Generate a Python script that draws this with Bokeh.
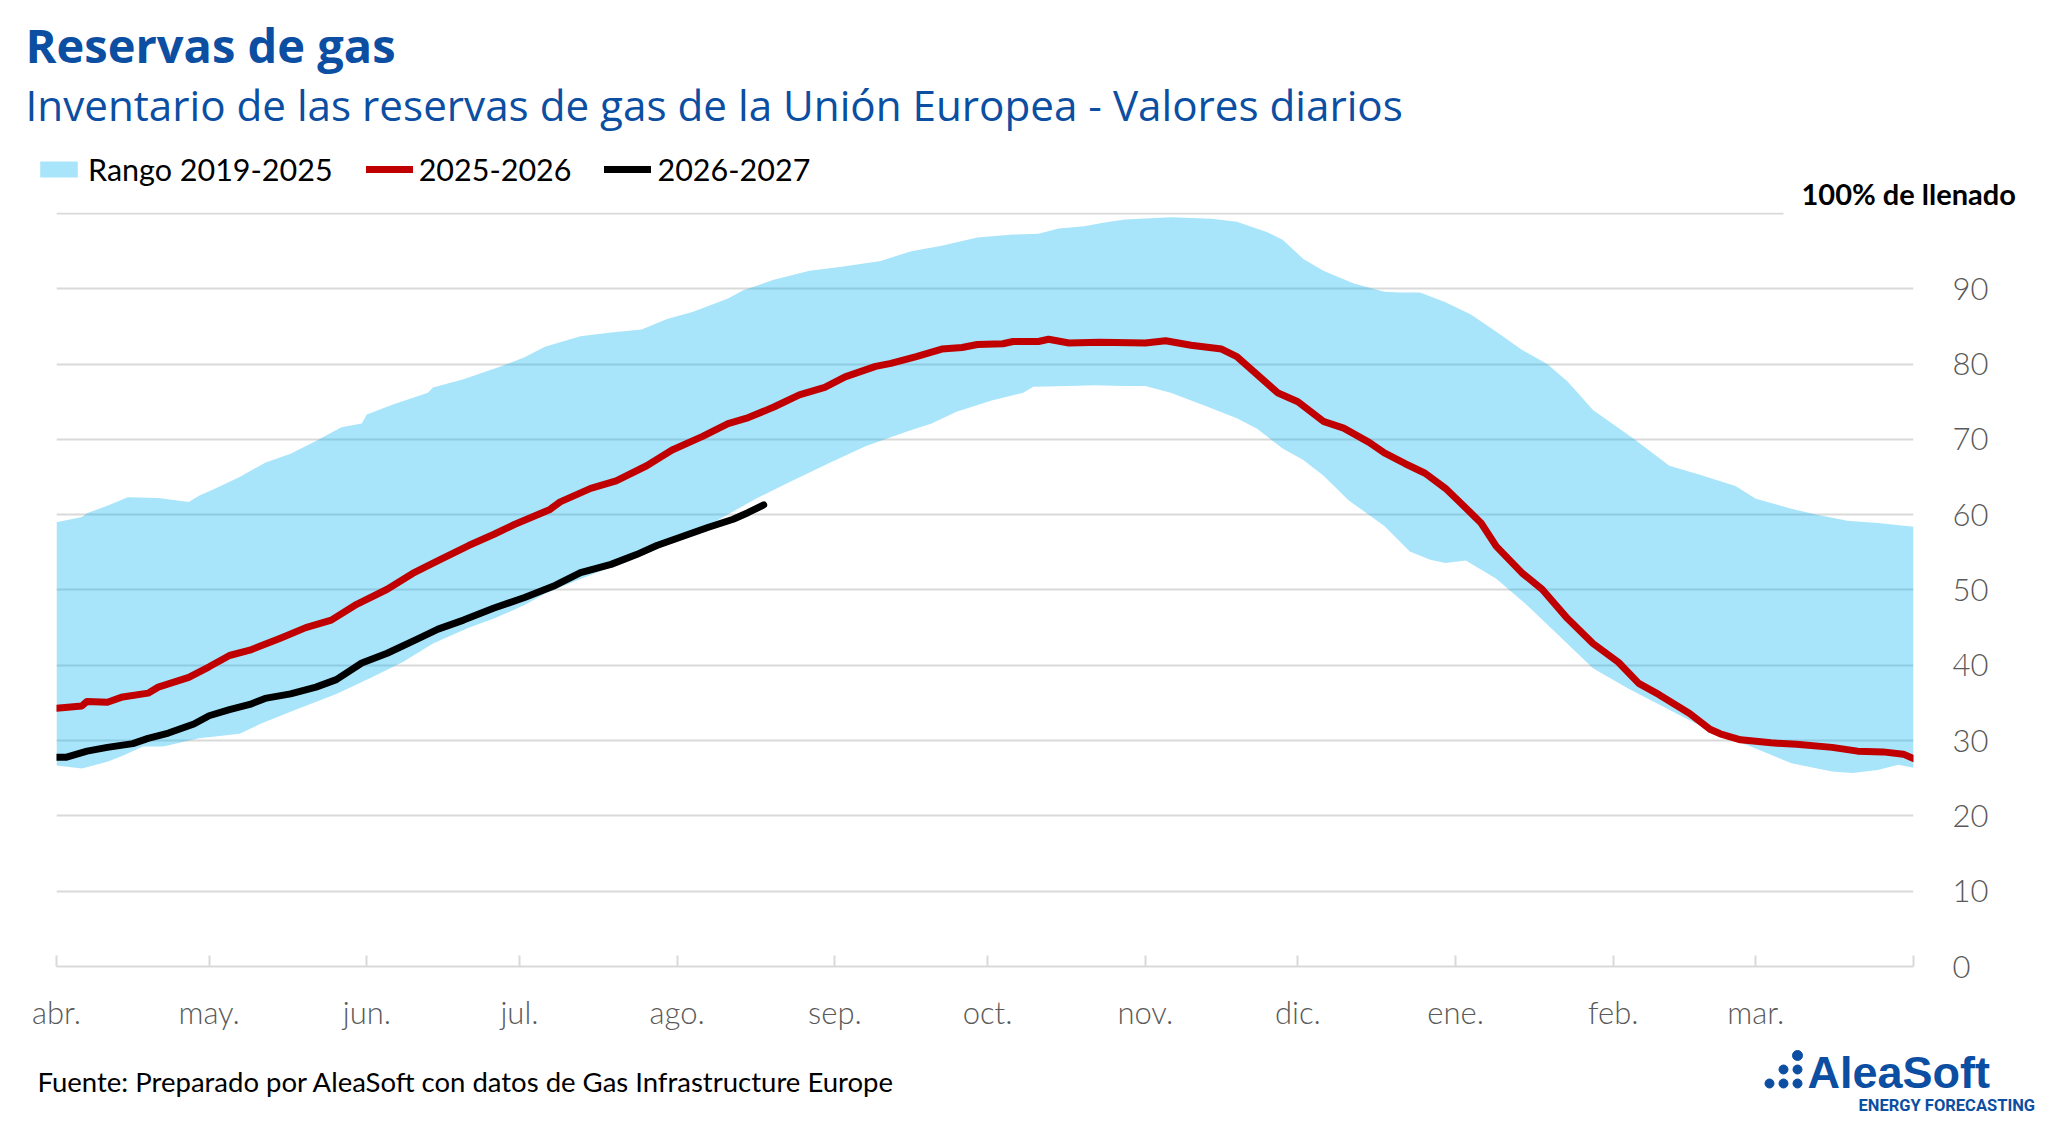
from bokeh.plotting import figure
from bokeh.models import Range1d, FixedTicker, Label, Legend, LegendItem
from bokeh.embed import file_html
from bokeh.resources import INLINE

# ---------------- data ----------------
MONTHS = ["abr.", "may.", "jun.", "jul.", "ago.", "sep.", "oct.", "nov.",
          "dic.", "ene.", "feb.", "mar."]
MONTH_START_DAYS = [0, 30, 61, 91, 122, 153, 183, 214, 244, 275, 306, 334]
SEASON_DAYS = 365
Y_TICKS = [0, 10, 20, 30, 40, 50, 60, 70, 80, 90]
FULL_LEVEL = 100

range_upper_days = [0, 5, 6, 10, 14, 20, 26, 28, 31, 36, 41, 46, 51, 56, 60, 61, 66, 73, 74,
                    80, 87, 92, 96, 103, 109, 115, 120, 125, 132, 135, 141, 148, 154, 162,
                    168, 174, 181, 188, 193, 197, 202, 206, 210, 219, 227, 232, 238, 241,
                    245, 249, 255, 261, 264, 268, 273, 278, 283, 288, 293, 297, 302, 310,
                    317, 323, 330, 334, 341, 346, 352, 358, 365]
range_upper = [59.0, 59.7, 60.2, 61.2, 62.3, 62.2, 61.7, 62.5, 63.4, 65.0, 66.9, 68.1, 69.8,
               71.6, 72.1, 73.3, 74.6, 76.2, 76.9, 78.0, 79.6, 80.9, 82.3, 83.7, 84.2, 84.6,
               86.0, 86.9, 88.7, 89.8, 91.2, 92.4, 92.9, 93.7, 95.0, 95.7, 96.8, 97.2, 97.3,
               98.0, 98.3, 98.8, 99.2, 99.5, 99.3, 98.9, 97.5, 96.5, 94.0, 92.4, 90.7, 89.6,
               89.5, 89.5, 88.2, 86.6, 84.3, 81.9, 80.0, 77.7, 73.9, 70.1, 66.5, 65.3, 63.8,
               62.1, 60.8, 60.0, 59.2, 58.9, 58.4]

range_lower_days = [0, 5, 10, 13, 17, 21, 28, 36, 40, 47, 55, 62, 68, 74, 81, 86, 92, 96, 102,
                    108, 112, 117, 123, 129, 135, 138, 144, 152, 159, 167, 172, 177, 184, 190,
                    192, 199, 204, 210, 214, 219, 226, 232, 236, 241, 245, 249, 254, 261, 266,
                    270, 273, 277, 283, 289, 296, 302, 309, 317, 325, 333, 341, 349, 353, 358,
                    362, 365]
range_lower = [26.7, 26.3, 27.2, 28.0, 29.2, 29.2, 30.3, 30.9, 32.2, 34.1, 36.2, 38.4, 40.4,
               42.9, 45.0, 46.2, 48.0, 49.5, 51.2, 52.8, 53.7, 55.1, 57.2, 58.9, 61.2, 62.3,
               64.3, 66.9, 69.1, 71.0, 72.1, 73.7, 75.2, 76.2, 77.0, 77.1, 77.2, 77.1, 77.1,
               76.2, 74.4, 72.8, 71.4, 68.8, 67.3, 65.2, 61.9, 58.5, 55.1, 54.0, 53.6, 53.9,
               51.5, 48.0, 43.5, 39.6, 36.9, 34.1, 31.3, 29.2, 27.0, 25.9, 25.7, 26.1, 26.8,
               26.4]

days_2025_26 = [0, 5, 6, 10, 13, 18, 20, 26, 30, 34, 38, 44, 49, 54, 59, 65, 70, 75, 81, 86,
                90, 97, 99, 105, 110, 116, 121, 127, 132, 136, 141, 146, 151, 155, 161, 164,
                169, 174, 178, 181, 186, 188, 193, 195, 199, 205, 214, 218, 223, 229, 232,
                235, 240, 244, 249, 253, 258, 261, 265, 269, 273, 277, 280, 283, 288, 292,
                297, 302, 307, 311, 315, 321, 325, 327, 331, 337, 342, 349, 354, 359, 363, 365]
fill_2025_26 = [34.3, 34.6, 35.2, 35.1, 35.8, 36.3, 37.1, 38.4, 39.8, 41.3, 42.0, 43.6, 45.0,
                46.0, 48.1, 50.1, 52.2, 53.9, 55.9, 57.4, 58.7, 60.7, 61.7, 63.5, 64.5, 66.5,
                68.6, 70.4, 72.1, 72.9, 74.3, 75.9, 76.9, 78.3, 79.7, 80.1, 81.0, 82.0, 82.2,
                82.6, 82.7, 83.0, 83.0, 83.3, 82.8, 82.9, 82.8, 83.1, 82.5, 82.0, 81.0, 79.2,
                76.2, 75.0, 72.4, 71.5, 69.6, 68.2, 66.8, 65.5, 63.5, 60.9, 58.9, 55.8, 52.3,
                50.1, 46.2, 42.9, 40.4, 37.6, 36.1, 33.6, 31.5, 30.9, 30.1, 29.7, 29.5, 29.1,
                28.6, 28.5, 28.2, 27.6]

days_2026_27 = [0, 2, 6, 10, 15, 18, 22, 27, 30, 34, 38, 41, 46, 51, 55, 60, 65, 71, 75, 80,
                86, 92, 98, 103, 109, 114, 118, 123, 128, 133, 136, 139]
fill_2026_27 = [27.8, 27.8, 28.6, 29.1, 29.6, 30.3, 31.0, 32.2, 33.3, 34.1, 34.8, 35.6, 36.2,
                37.1, 38.1, 40.3, 41.6, 43.5, 44.8, 46.0, 47.6, 49.0, 50.6, 52.3, 53.4, 54.7,
                55.9, 57.1, 58.3, 59.4, 60.3, 61.3]

SERIES_NAMES = ["Rango 2019-2025", "2025-2026", "2026-2027"]

# ---------------- style / layout ----------------
W = 2048
HEAD_H, MAIN_H, FOOT_H = 212, 836, 76
BLUE = "#0B4EA2"
GREY_TXT = "#595959"
GRID = "#D9D9D9"
BAND_COLOR, BAND_ALPHA = "#00B0F0", 0.34
RED = "#C00000"
LW = 7

FRAME_L, FRAME_R = 56, 1913          # page pixels
FRAME_B = 754                        # inside the main figure
Y_TOP = 100.13
BASELINE_SHIFT = 0.325               # measured offset of the svg text baseline (em)

band_x = range_upper_days + range_lower_days[::-1]
band_y = range_upper + range_lower[::-1]


def blank_figure(h, y0):
    f = figure(width=W, height=h, output_backend="svg", toolbar_location=None,
               x_range=Range1d(0, W), y_range=Range1d(y0 + h, y0),
               x_axis_location=None, y_axis_location=None,
               min_border=0, min_border_left=0, min_border_right=0,
               min_border_top=0, min_border_bottom=0)
    f.outline_line_color = None
    f.grid.visible = False
    return f


def text(f, x, baseline, s, size, **kw):
    f.add_layout(Label(x=x, y=baseline - BASELINE_SHIFT * size, text=s,
                       text_baseline="alphabetic", text_align="left",
                       text_font_size=f"{size}px", **kw))


def draw_series(f, visible=True):
    rb = f.patch(band_x, band_y, fill_color=BAND_COLOR, fill_alpha=BAND_ALPHA,
                 line_color=None, visible=visible)
    rr = f.line(days_2025_26, fill_2025_26, line_color=RED, line_width=LW,
                line_join="round", line_cap="round", visible=visible)
    rk = f.line(days_2026_27, fill_2026_27, line_color="black", line_width=LW,
                line_join="round", line_cap="round", visible=visible)
    return rb, rr, rk


# ---- header (titles, legend, 100 % caption) ----
head = blank_figure(HEAD_H, 0)
text(head, 25, 60, "Reservas de gas", 47, text_font="Open Sans", text_font_style="bold",
     text_color=BLUE)
text(head, 25, 118, "Inventario de las reservas de gas de la Unión Europea - Valores diarios",
     42.2, text_font="Open Sans", text_color=BLUE)
text(head, 1801, 202, "100% de llenado", 29, text_font="Lato", text_font_style="bold",
     text_color="black")
legend_refs = draw_series(head, visible=False)
legend = Legend(items=[LegendItem(label=n, renderers=[r])
                       for n, r in zip(SERIES_NAMES, legend_refs)],
                orientation="horizontal", location=(35, 25), padding=0, margin=0,
                spacing=33, label_standoff=6, glyph_width=47, glyph_height=20,
                border_line_color=None, background_fill_alpha=0,
                inactive_fill_alpha=0,
                label_text_font="Lato", label_text_font_size="30.5px",
                label_text_color="black")
head.add_layout(legend)

# ---- main chart ----
p = figure(width=W, height=MAIN_H, output_backend="svg", toolbar_location=None,
           x_range=Range1d(0, SEASON_DAYS), y_range=Range1d(0, Y_TOP),
           y_axis_location="right",
           min_border_left=FRAME_L, min_border_right=W - FRAME_R,
           min_border_top=0, min_border_bottom=MAIN_H - FRAME_B)
p.outline_line_color = None
draw_series(p)

xa = p.xaxis[0]
xa.ticker = FixedTicker(ticks=MONTH_START_DAYS + [SEASON_DAYS])
overrides = {d: m for d, m in zip(MONTH_START_DAYS, MONTHS)}
overrides[SEASON_DAYS] = ""
xa.major_label_overrides = overrides
xa.axis_line_color = GRID
xa.axis_line_width = 2
xa.major_tick_in = 11
xa.major_tick_out = 0
xa.major_tick_line_color = GRID
xa.major_tick_line_width = 2
xa.minor_tick_line_color = None
xa.major_label_text_color = GREY_TXT
xa.major_label_text_font = "Lato Light"
xa.major_label_text_font_size = "31px"
xa.major_label_standoff = 26

ya = p.yaxis[0]
ya.ticker = FixedTicker(ticks=Y_TICKS)
ya.axis_line_color = None
ya.major_tick_line_color = None
ya.minor_tick_line_color = None
ya.major_label_text_color = GREY_TXT
ya.major_label_text_font = "Lato Light"
ya.major_label_text_font_size = "31px"
ya.major_label_standoff = 33

p.xgrid.visible = False
p.ygrid.ticker = FixedTicker(ticks=[t for t in Y_TICKS if t > 0])
p.ygrid.grid_line_color = GRID
p.ygrid.grid_line_width = 2

# 100 % line, ending before its caption
full_line_end = SEASON_DAYS * 0.93
p.line([0, full_line_end], [FULL_LEVEL, FULL_LEVEL], line_color=GRID, line_width=2)

# ---- footer ----
Y0F = HEAD_H + MAIN_H
foot = blank_figure(FOOT_H, Y0F)
text(foot, 37, 1090, "Fuente: Preparado por AleaSoft con datos de Gas Infrastructure Europe",
     27.5, text_font="Lato", text_color="black")
text(foot, 1807, 1087, "AleaSoft", 45, text_font="Liberation Sans", text_font_style="bold",
     text_color=BLUE)
text(foot, 1858, 1110, "ENERGY FORECASTING", 16.5, text_font="Roboto",
     text_font_style="bold", text_color=BLUE)
foot.scatter([1769, 1783, 1783, 1797, 1797, 1797], [1083, 1069, 1083, 1055, 1069, 1083],
             size=[9, 9, 9, 10, 9, 9], color=BLUE)

open("out.html", "w").write(file_html([head, p, foot], INLINE))
